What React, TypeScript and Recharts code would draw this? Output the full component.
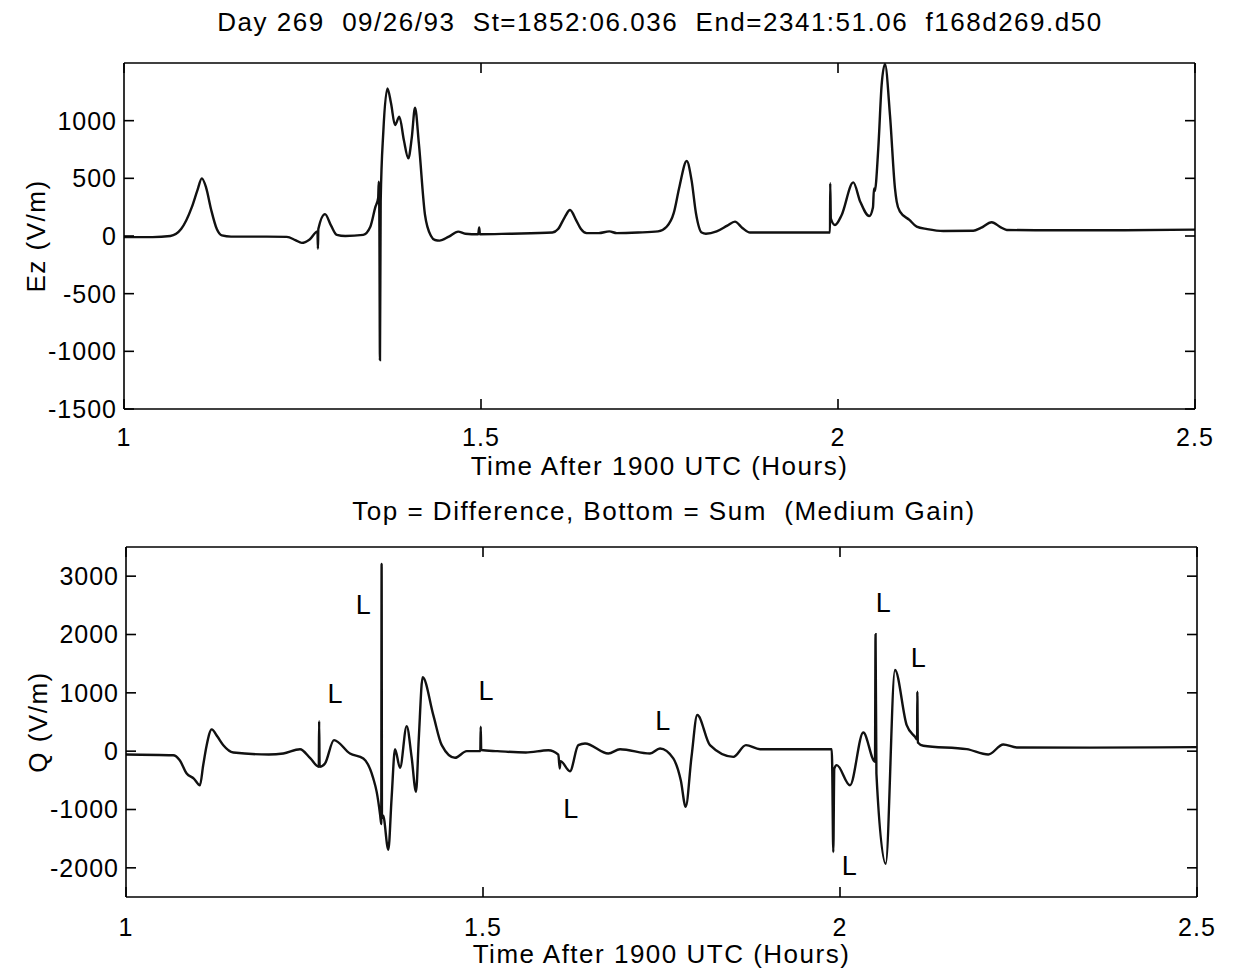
import React from 'react'
import { ComposedChart, Line, Scatter, XAxis, YAxis } from 'recharts'

// Ez trace (top panel), hours after 1900 UTC and V/m
const ezHours = [
  1.0, 1.04, 1.065, 1.08, 1.095, 1.103, 1.109, 1.115, 1.122, 1.13, 1.137, 1.15, 1.2, 1.228, 1.24, 1.249, 1.26,
  1.271, 1.2716, 1.2722, 1.2815, 1.29, 1.298, 1.31, 1.335, 1.345, 1.352, 1.356, 1.3568, 1.3576, 1.3585, 1.3595,
  1.3632, 1.369, 1.374, 1.3796, 1.3856, 1.392, 1.3982, 1.403, 1.4076, 1.413, 1.4216, 1.43, 1.4356, 1.442, 1.455,
  1.468, 1.478, 1.496, 1.4975, 1.4985, 1.54, 1.6, 1.608, 1.617, 1.6247, 1.633, 1.64, 1.648, 1.665, 1.6797, 1.69,
  1.72, 1.748, 1.76, 1.77, 1.778, 1.7881, 1.795, 1.801, 1.8091, 1.815, 1.83, 1.845, 1.8557, 1.866, 1.8768, 1.93,
  1.9888, 1.9891, 1.99, 1.9958, 2.005, 2.0214, 2.031, 2.0438, 2.049, 2.0504, 2.0515, 2.0564, 2.0611, 2.0658,
  2.0728, 2.0798, 2.0822, 2.0868, 2.1, 2.1102, 2.125, 2.1475, 2.1895, 2.2, 2.2153, 2.228, 2.2363, 2.3, 2.4, 2.5,
]
const ezValues = [
  -10, -10, 0, 60, 250, 400, 500, 420, 230, 60, 5, -5, -5, -8, -35, -60, -30,
  40, -110, 60, 190, 90, 10, 0, 10, 80, 250, 330, 470, 200, -1075, 300,
  905, 1280, 1150, 962, 1035, 830, 673, 850, 1113, 800, 182, 0, -35, -40, -5,
  38, 20, 15, 75, 15, 20, 30, 60, 160, 225, 140, 60, 25, 25, 40, 25,
  30, 40, 80, 200, 430, 650, 480, 200, 30, 20, 40, 90, 125, 70, 30, 30,
  30, 457, 150, 95, 180, 465, 300, 173, 250, 413, 390, 758, 1308, 1490,
  1048, 413, 298, 211, 140, 81, 60, 43, 45, 70, 119, 75, 52, 50, 50, 55,
]

// Q trace (bottom panel)
const qHours = [
  1.0, 1.066, 1.075, 1.085, 1.095, 1.1036, 1.108, 1.113, 1.12, 1.128, 1.1363, 1.1503, 1.2, 1.2203, 1.2437, 1.258,
  1.27, 1.2705, 1.2712, 1.2787, 1.2913, 1.3137, 1.3324, 1.3464, 1.3511, 1.356, 1.3575, 1.358, 1.3585, 1.36,
  1.3674, 1.372, 1.3768, 1.3838, 1.3931, 1.4, 1.4062, 1.41, 1.4155, 1.4304, 1.4422, 1.4608, 1.4772, 1.4962,
  1.4968, 1.4975, 1.52, 1.56, 1.5915, 1.6055, 1.6075, 1.6085, 1.6218, 1.6335, 1.6429, 1.6755, 1.6919, 1.7339,
  1.7479, 1.7665, 1.777, 1.7839, 1.792, 1.8001, 1.8179, 1.8506, 1.8683, 1.888, 1.9884, 1.989, 1.9906, 1.992,
  1.9954, 2.014, 2.0326, 2.049, 2.0498, 2.051, 2.064, 2.077, 2.0934, 2.105, 2.108, 2.1083, 2.109, 2.1167,
  2.1775, 2.2077, 2.2287, 2.2475, 2.35, 2.4996,
]
const qValues = [
  -57, -70, -150, -383, -470, -584, -250, 103, 373, 250, 103, -22, -57, -40, 34, -120,
  -268, 515, -268, -211, 189, -40, -125, -470, -698, -1100, -1250, 3208, -1150, -1100,
  -1689, -800, 34, -286, 430, -100, -698, 200, 1266, 619, 103, -114, 0, 0,
  419, 20, 0, -22, 17, -60, -297, -170, -343, 103, 132, -40, 34, -40,
  46, -125, -500, -955, -100, 619, 103, -97, 103, 34, 34, -200, -1729, -300,
  -240, -584, 321, -182, 2005, -383, -1929, 1392, 447, 247, 200, 1020, 150, 93,
  34, -57, 115, 64, 60, 69,
]

// "L" annotations on the Q panel
const lightningHours = [1.2927, 1.3324, 1.5042, 1.6228, 1.7517, 2.013, 2.0606, 2.1097]
const lightningQ = [979, 2508, 1026, -984, 515, -1969, 2537, 1593]

const timeTicks = [1, 1.5, 2, 2.5]
const ezTicks = [-1500, -1000, -500, 0, 500, 1000]
const qTicks = [-2000, -1000, 0, 1000, 2000, 3000]

const ezData = ezHours.map((t, i) => ({ t, v: ezValues[i] }))
const qData = qHours.map((t, i) => ({ t, v: qValues[i] }))
const lightningData = lightningHours.map((t, i) => ({ t, v: lightningQ[i] }))

const font = '"Liberation Sans", Arial, Helvetica, sans-serif'
const tickStyle = { fontSize: 25, fill: '#000', fontFamily: font, letterSpacing: 1 }
const labelStyle = { fontSize: 26, fill: '#000', fontFamily: font, letterSpacing: 1.5 }
const axisLine = { stroke: '#000', strokeWidth: 1.6 }
const blank = () => ''

function LetterL(props: any) {
  const { cx, cy } = props
  if (cx == null || cy == null) return null
  return (
    <text x={cx} y={cy} textAnchor="middle" dominantBaseline="central" fontSize={27} fontFamily={font} fill="#000">
      L
    </text>
  )
}

function Panel({
  data,
  domain,
  ticks,
  ylabel,
  margin,
  xTickMargin,
  marks,
}: {
  data: { t: number; v: number }[]
  domain: [number, number]
  ticks: number[]
  ylabel: string
  margin: { top: number; right: number; bottom: number; left: number }
  xTickMargin: number
  marks?: { t: number; v: number }[]
}) {
  return (
    <ComposedChart width={1236} height={487} data={data} margin={margin}>
      <XAxis
        dataKey="t"
        type="number"
        domain={[1, 2.5]}
        ticks={timeTicks}
        interval={0}
        allowDataOverflow
        height={70}
        tickSize={-10}
        tickMargin={xTickMargin}
        tick={tickStyle}
        tickLine={axisLine}
        axisLine={axisLine}
        tickFormatter={(v) => String(v)}
        label={{ value: 'Time After 1900 UTC (Hours)', position: 'insideBottom', offset: 4, style: labelStyle }}
      />
      <XAxis
        xAxisId="top"
        orientation="top"
        dataKey="t"
        type="number"
        domain={[1, 2.5]}
        ticks={timeTicks}
        interval={0}
        allowDataOverflow
        height={1}
        tickSize={-10}
        tick={tickStyle}
        tickFormatter={blank}
        tickLine={axisLine}
        axisLine={axisLine}
      />
      <YAxis
        type="number"
        domain={domain}
        ticks={ticks}
        interval={0}
        allowDataOverflow
        width={124}
        tickSize={-10}
        tickMargin={17}
        tick={tickStyle}
        tickLine={axisLine}
        axisLine={axisLine}
        label={{ value: ylabel, angle: -90, position: 'insideLeft', offset: 36, style: { ...labelStyle, textAnchor: 'middle' } }}
      />
      <YAxis
        yAxisId="right"
        orientation="right"
        type="number"
        domain={domain}
        ticks={ticks}
        interval={0}
        allowDataOverflow
        width={1}
        tickSize={-10}
        tick={tickStyle}
        tickFormatter={blank}
        tickLine={axisLine}
        axisLine={axisLine}
      />
      <Line
        xAxisId="top"
        yAxisId="right"
        dataKey="v"
        type="linear"
        stroke="none"
        dot={false}
        activeDot={false}
        isAnimationActive={false}
      />
      <Line dataKey="v" type="monotone" stroke="#111" strokeWidth={2.4} dot={false} activeDot={false} isAnimationActive={false} />
      {marks && <Scatter data={marks} dataKey="v" shape={LetterL} isAnimationActive={false} />}
    </ComposedChart>
  )
}

const headStyle: React.CSSProperties = {
  position: 'absolute',
  left: 0,
  width: 1236,
  textAlign: 'center',
  whiteSpace: 'pre',
  fontFamily: font,
  fontSize: 26,
  lineHeight: '26px',
  letterSpacing: 1.5,
  color: '#000',
}

export default function App() {
  return (
    <div style={{ position: 'absolute', left: 0, top: 0, width: 1236, height: 973, background: '#fff', overflow: 'hidden' }}>
      <div style={{ ...headStyle, top: 9, paddingLeft: 42 }}>
        {'Day 269  09/26/93  St=1852:06.036  End=2341:51.06  f168d269.d50'}
      </div>
      <div style={{ ...headStyle, top: 498, paddingLeft: 46 }}>{'Top = Difference, Bottom = Sum  (Medium Gain)'}</div>
      <div style={{ position: 'absolute', left: 0, top: 0 }}>
        <Panel
          data={ezData}
          domain={[-1500, 1500]}
          ticks={ezTicks}
          ylabel="Ez (V/m)"
          margin={{ top: 62, right: 40, bottom: 8, left: 0 }}
          xTickMargin={29}
        />
      </div>
      <div style={{ position: 'absolute', left: 0, top: 486 }}>
        <Panel
          data={qData}
          domain={[-2500, 3500]}
          ticks={qTicks}
          ylabel="Q (V/m)"
          margin={{ top: 60, right: 38, bottom: 6, left: 2 }}
          xTickMargin={31}
          marks={lightningData}
        />
      </div>
    </div>
  )
}
